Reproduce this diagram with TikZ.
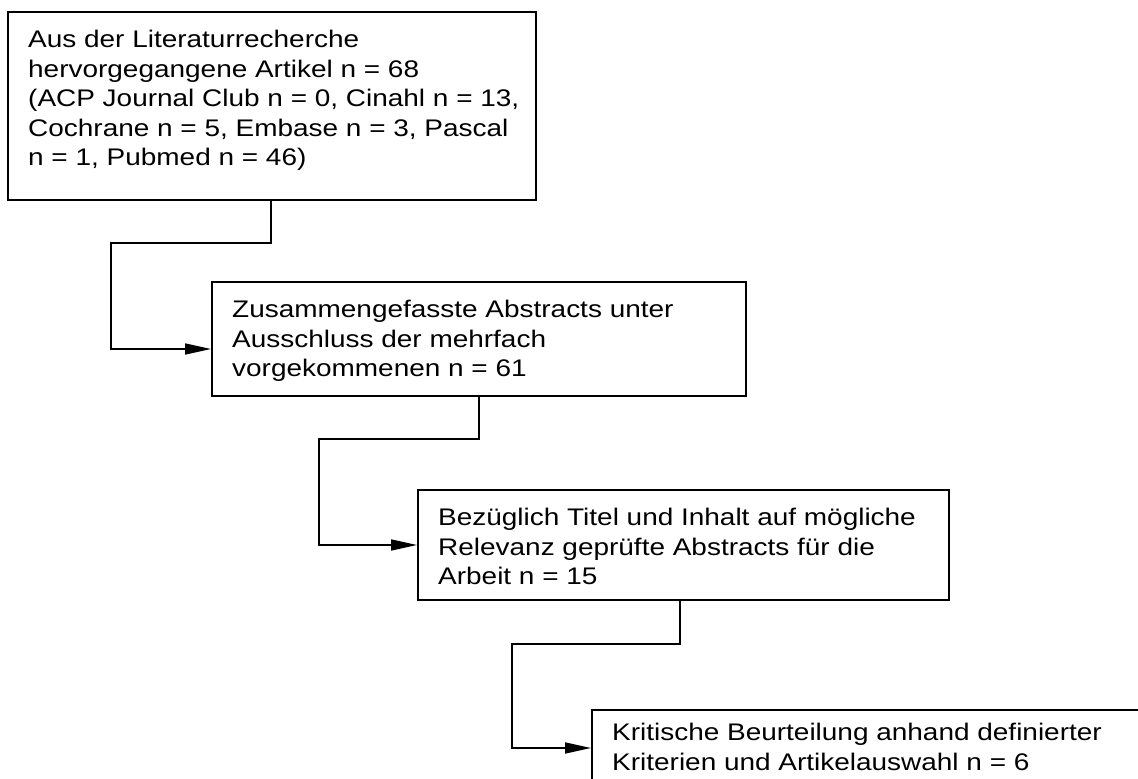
\documentclass[tikz,border=0pt]{standalone}
\usepackage{fontspec}
\setmainfont[FakeStretch=1.165]{Liberation Sans}
\usetikzlibrary{arrows.meta,positioning}
\tikzset{
  boxnode/.style={draw=black, line width=1.6pt, rectangle, inner sep=0pt, anchor=north west},
  txt/.style={anchor=north west, inner sep=0pt, align=left, font=\fontsize{24}{29.5}\selectfont},
  conn/.style={draw=black, line width=1.6pt, -{Triangle[length=26pt,width=11pt]}}
}
\begin{document}
\begin{tikzpicture}[x=1pt,y=-1pt]
\clip (0,0) rectangle (1138,779);
\fill[white] (0,0) rectangle (1138,779);
% boxes
\node[boxnode, minimum width=528pt, minimum height=188pt] (b1) at (7,11) {};
\node[boxnode, minimum width=534pt, minimum height=114pt] (b2) at (211,281) {};
\node[boxnode, minimum width=531pt, minimum height=110pt] (b3) at (417,489) {};
\node[boxnode, minimum width=600pt, minimum height=120pt] (b4) at (591,709) {};
% texts
\node[txt] (t1) at (28,30) {Aus der Literaturrecherche\\hervorgegangene Artikel n = 68\\(ACP Journal Club n = 0, Cinahl n = 13,\\Cochrane n = 5, Embase n = 3, Pascal\\n = 1, Pubmed n = 46)};
\node[txt] (t2) at (232,300) {Zusammengefasste Abstracts unter\\Ausschluss der mehrfach\\vorgekommenen n = 61};
\node[txt] (t3) at (438,508) {Bezüglich Titel und Inhalt auf mögliche\\Relevanz geprüfte Abstracts für die\\Arbeit n = 15};
\node[txt] (t4) at (612,723) {Kritische Beurteilung anhand definierter\\Kriterien und Artikelauswahl n = 6};
% bend points
\coordinate (k1) at (111,243);
\coordinate (k2) at (319,439);
\coordinate (k3) at (512,644);
% connectors
\draw[conn] (b1.south -| 271,0) |- (k1) |- (b2.west |- 0,349);
\draw[conn] (b2.south -| 479,0) |- (k2) |- (b3.west |- 0,545);
\draw[conn] (b3.south -| 680,0) |- (k3) |- (b4.west |- 0,748);
\end{tikzpicture}
\end{document}
